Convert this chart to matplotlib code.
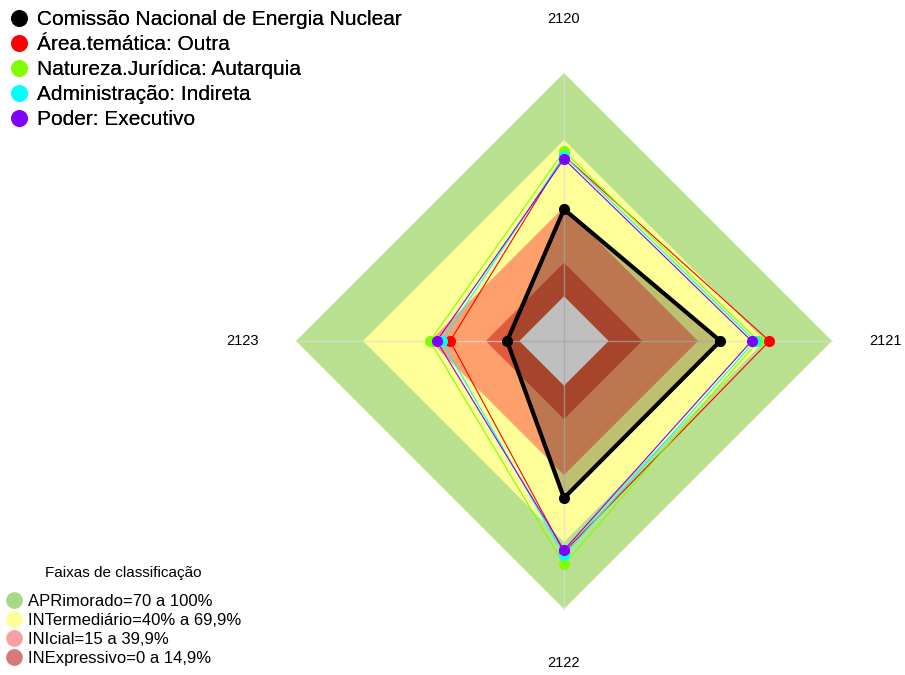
import numpy as np
import matplotlib.pyplot as plt
from matplotlib.lines import Line2D

plt.rcParams['font.family'] = ['Liberation Sans', 'DejaVu Sans']

eixos = ['2120', '2121', '2122', '2123']
nomes = ['Comissão Nacional de Energia Nuclear', 'Área.temática: Outra',
         'Natureza.Jurídica: Autarquia', 'Administração: Indireta', 'Poder: Executivo']
cores = ['black', 'red', '#7fff00', '#00ffff', '#8000ff']
cnen = [39, 50, 50.3, 5.5]
area = [63, 72, 74.5, 31]
natureza = [65, 67, 80, 40]
administracao = [63, 65.5, 76, 34.6]
poder = [61.5, 64, 73.6, 37]
valores = [cnen, area, natureza, administracao, poder]

faixas = ['APRimorado=70 a 100%', 'INTermediário=40% a 69,9%',
          'INIcial=15 a 39,9%', 'INExpressivo=0 a 14,9%']
limites = [100, 70, 40, 15]
cores_faixas = ['#b8e08f', '#ffff99', '#fda06b', '#e05b3c']
cores_leg = ['#a6d886', '#ffff99', '#f7a0a0', '#d47a7a']

ang = np.pi / 2 - np.arange(4) * np.pi / 2
r0 = 1 / 6


def raio(v):
    return r0 + (1 - r0) * np.asarray(v, dtype=float) / 100


def poligono(v):
    r = raio(v)
    x = r * np.cos(ang)
    y = r * np.sin(ang)
    return np.append(x, x[0]), np.append(y, y[0])


fig = plt.figure(figsize=(9.05, 6.75), dpi=100)
ax = fig.add_axes([0, 0, 1, 1])
esc = 268
ax.set_xlim(-564 / esc, (905 - 564) / esc)
ax.set_ylim(-334 / esc, 341 / esc)
ax.axis('off')

for lim, c in zip(limites, cores_faixas):
    x, y = poligono([lim] * 4)
    ax.fill(x, y, color=c, lw=0, zorder=1)
x, y = poligono([0] * 4)
ax.fill(x, y, color='white', lw=0, zorder=1)

for a in ang:
    ax.plot([0, np.cos(a)], [0, np.sin(a)], color='#dddddd', lw=1, alpha=0.7, zorder=2)

for i, (v, c) in enumerate(zip(valores, cores)):
    x, y = poligono(v)
    if i == 0:
        ax.fill(x, y, color='black', alpha=0.25, lw=0, zorder=3)
        ax.plot(x, y, color=c, lw=3, zorder=4)
        ax.plot(x[:-1], y[:-1], 'o', color=c, ms=7, zorder=5)
    else:
        ax.plot(x, y, color=c, lw=0.8, zorder=4)
        ax.plot(x[:-1], y[:-1], 'o', color=c, ms=7, zorder=5)

for a, nome in zip(ang, eixos):
    ax.text(1.2 * np.cos(a), 1.2 * np.sin(a), nome, ha='center', va='center', fontsize=10.5)

h1 = [Line2D([], [], marker='o', ls='', color=c, ms=11) for c in cores]
leg1 = fig.legend(h1, nomes, loc='upper left', bbox_to_anchor=(0.0095, 0.985), frameon=False,
                  fontsize=15, handlelength=1.0, handletextpad=0.35, labelspacing=0.29,
                  borderpad=0.0, borderaxespad=0.0)

h2 = [Line2D([], [], marker='o', ls='', color=c, ms=11) for c in cores_leg]
leg2 = fig.legend(h2, faixas, loc='lower left', bbox_to_anchor=(0.006, 0.013), frameon=False,
                  fontsize=12, title='Faixas de classificação', title_fontsize=11,
                  handlelength=1.0, handletextpad=0.35, labelspacing=0.25,
                  borderpad=0.0, borderaxespad=0.0)
leg2._legend_box.sep = 10
fig.add_artist(leg1)

fig.savefig('out.png', dpi=100)
